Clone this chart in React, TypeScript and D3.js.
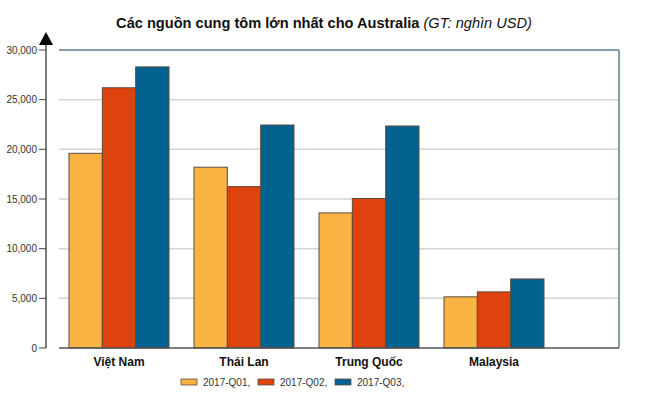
import React from 'react';
import * as d3 from 'd3';

// Giá trị nhập khẩu (nghìn USD)
const countries = ['Việt Nam', 'Thái Lan', 'Trung Quốc', 'Malaysia'];
const quarters = ['2017-Q01', '2017-Q02', '2017-Q03'];
const q1Values = [19600, 18200, 13600, 5150];
const q2Values = [26200, 16250, 15050, 5650];
const q3Values = [28300, 22450, 22350, 6950];
const yTicks = [0, 5000, 10000, 15000, 20000, 25000, 30000];
const colors = ['#F9B343', '#DF430D', '#03628F'];

const App = () => {
  const width = 646;
  const height = 394;
  const font = '"Liberation Sans", Arial, sans-serif';

  const series = [q1Values, q2Values, q3Values];

  const plotLeft = 59;
  const plotRight = 619;
  const axisX = 46;

  const yScale = d3.scaleLinear().domain([0, 30000]).range([348, 50]);

  const xScale = d3
    .scaleBand<string>()
    .domain(countries)
    .range([plotLeft, 554])
    .paddingInner(0.2)
    .paddingOuter(0.08);

  const xInner = d3
    .scaleBand<string>()
    .domain(quarters)
    .range([0, xScale.bandwidth()]);

  const fmt = d3.format(',');

  // Vị trí chú thích
  const legendX = d3.scalePoint<string>().domain(quarters).range([181, 335]);

  return (
    <svg width={width} height={height} style={{ position: 'absolute', left: 0, top: 0 }}>
      <rect width={width} height={height} fill="#fff" />

      {/* Tiêu đề */}
      <text x={324} y={28} textAnchor="middle" fontFamily={font} fontSize={14.6} fill="#111">
        <tspan fontWeight="bold">Các nguồn cung tôm lớn nhất cho Australia </tspan>
        <tspan fontStyle="italic">(GT: nghìn USD)</tspan>
      </text>

      {/* Lưới ngang */}
      {yTicks.slice(1, -1).map((t) => (
        <line
          key={t}
          x1={plotLeft}
          x2={plotRight}
          y1={yScale(t)}
          y2={yScale(t)}
          stroke="#d4d4d4"
          strokeWidth={1.5}
        />
      ))}

      {/* Khung */}
      <line x1={plotLeft} x2={plotRight} y1={yScale(30000)} y2={yScale(30000)} stroke="#5b7a99" strokeWidth={1.5} />
      <line x1={plotRight} x2={plotRight} y1={yScale(30000)} y2={yScale(0)} stroke="#5b7a99" strokeWidth={1.5} />

      {/* Cột */}
      {countries.map((c, i) => (
        <g key={c} transform={`translate(${xScale(c)},0)`}>
          {quarters.map((q, j) => (
            <rect
              key={q}
              x={xInner(q)}
              y={yScale(series[j][i])}
              width={xInner.bandwidth()}
              height={yScale(0) - yScale(series[j][i])}
              fill={colors[j]}
              stroke="#5e4b40"
              strokeWidth={1}
            />
          ))}
        </g>
      ))}

      <line x1={plotLeft} x2={plotRight} y1={yScale(0)} y2={yScale(0)} stroke="#555" strokeWidth={1.5} />

      {/* Trục tung */}
      <line x1={axisX} x2={axisX} y1={44} y2={yScale(0)} stroke="#222" strokeWidth={1.2} />
      <path d={`M${axisX},32 L${axisX + 7},45 L${axisX - 7},45 Z`} fill="#000" />
      {yTicks.map((t) => (
        <g key={t}>
          <line x1={39} x2={axisX} y1={yScale(t)} y2={yScale(t)} stroke="#444" strokeWidth={1} />
          <text
            x={37}
            y={yScale(t)}
            dy="0.35em"
            textAnchor="end"
            fontFamily={font}
            fontSize={10}
            fill="#333"
          >
            {fmt(t)}
          </text>
        </g>
      ))}

      {/* Nhãn danh mục */}
      {countries.map((c) => (
        <text
          key={c}
          x={(xScale(c) as number) + xScale.bandwidth() / 2}
          y={366}
          textAnchor="middle"
          fontFamily={font}
          fontSize={12}
          fontWeight="bold"
          fill="#111"
        >
          {c}
        </text>
      ))}

      {/* Chú thích */}
      {quarters.map((q, j) => (
        <g key={q} transform={`translate(${legendX(q)},0)`}>
          <rect x={0} y={379} width={16} height={6} fill={colors[j]} stroke="#5e4b40" strokeWidth={0.8} />
          <text x={22} y={386} fontFamily={font} fontSize={10} fill="#333">
            {q},
          </text>
        </g>
      ))}
    </svg>
  );
};

export default App;
